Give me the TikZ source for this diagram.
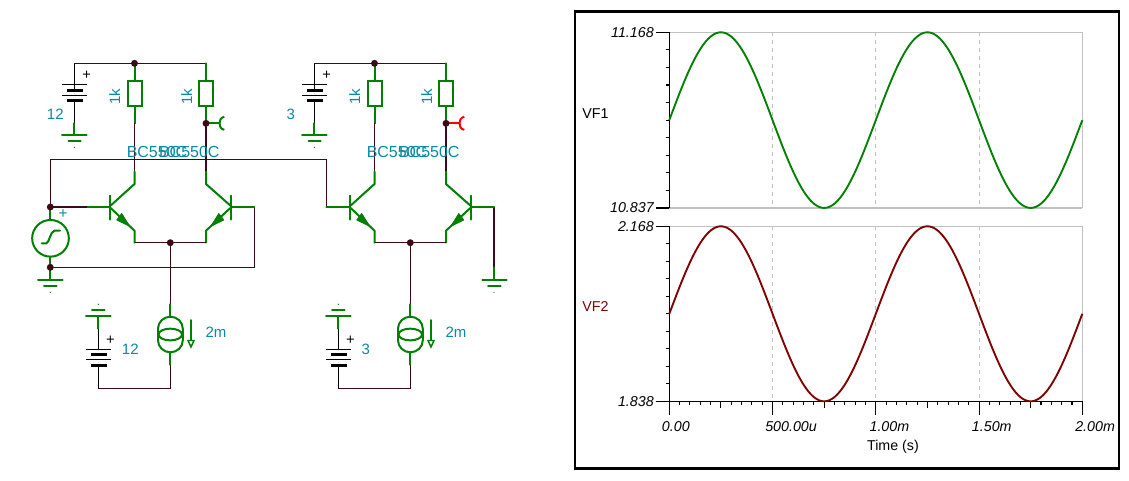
\documentclass[tikz,border=0pt]{standalone}
\usepackage{fontspec}
\setmainfont{Liberation Sans}
\definecolor{gr}{HTML}{008000}
\definecolor{wr}{HTML}{3C0A14}
\definecolor{tl}{HTML}{0A8AA0}
\definecolor{dr}{HTML}{800000}
\definecolor{gy}{HTML}{C0C0C0}
\tikzset{
 comp/.style={draw=gr,line width=1.5pt,line cap=round},
 wire/.style={draw=wr,line width=.8pt},
 blk/.style={draw=black,line width=.8pt},
 plate/.style={draw=black,line width=.8pt},
 thick plate/.style={draw=black,line width=2.6pt},
 dot/.style={fill=wr,circle,minimum size=5.2pt,inner sep=0pt},
 lab/.style={text=tl,font=\fontsize{11.25}{12}\selectfont,inner sep=0pt},
 tick lab/.style={font=\fontsize{10.7}{12}\selectfont\itshape,inner sep=0pt,text=black},
 axis lab/.style={font=\fontsize{10.7}{12}\selectfont,inner sep=0pt},
 ax/.style={draw=black,line width=.8pt},
 grid solid/.style={draw=gy,line width=.8pt},
 grid dash/.style={draw=gy,line width=.7pt,dash pattern=on 3pt off 3pt},
 arrow fill/.style={fill=gr,draw=gr,line width=.6pt,line join=round},
}
% one differential pair with its supply, load resistors, tail source and batteries
% #1 = probe colour
\newcommand{\diffpair}[1]{%
 % top supply
 \coordinate (bt) at (74.3,63.3);
 \coordinate (tl) at (134.5,63.3);
 \coordinate (tr) at (206,63.3);
 \draw[blk] (bt) -- (74.3,84.3);
 \draw[wire] (bt) -- (tl) -- (tr);
 \draw[plate] (62,84.3) -- (86.7,84.3) (62,95.3) -- (86.7,95.3);
 \draw[thick plate] (67,90.3) -- (83,90.3) (67,100.3) -- (83,100.3);
 \draw[plate] (74.3,84.3) -- (74.3,90) (74.3,100.3) -- (74.3,123.3);
 \node[font=\fontsize{11}{12}\selectfont,inner sep=0pt] (pl1) at (86.7,75.3) {+};
 % ground of the supply
 \draw[comp] (74.3,123.3) -- (74.3,135) (62,135) -- (86.7,135) (68.5,140.7) -- (80.7,140.7);
 \fill[gr] (74.3,147.3) circle[radius=.5pt];
 % resistors
 \foreach \x in {134.5,206}{
  \draw[comp] (\x,63.3) -- (\x,80.7) (\x,106) -- (\x,123.3);
  \draw[comp,line cap=butt] (\x-7,80.7) rectangle (\x+7,106);
 }
 \node[dot] (jt) at (tl) {};
 \node[lab,rotate=90] (ra) at (114.7,96.7) {1k};
 \node[lab,rotate=90] (rb) at (186.7,96.7) {1k};
 % collector wires
 \coordinate (ca) at (134.5,123.3);
 \coordinate (cb) at (206,123.3);
 \coordinate (cc) at (134.5,171.7);
 \coordinate (cd) at (206,171.7);
 \draw[wire] (ca) -- (cc) (cb) -- (cd);
 % probe
 \draw[draw=#1,line width=1.5pt] (cb) -- (219.5,123.3);
 \draw[draw=#1,line width=1.5pt] (224.3,116.8) .. controls (220.5,117.5) and (219.5,120.5) .. (219.5,123.3) .. controls (219.5,126.1) and (220.5,129.1) .. (224.3,129.8);
 \node[dot] (jc) at (cb) {};
 % transistors
 \draw[comp] (cc) -- (134.5,184) -- (110.7,205.5);
 \draw[comp] (110.7,208) -- (134.5,230.7) -- (134.5,242.7);
 \draw[comp] (110,195.5) -- (110,219.5);
 \draw[arrow fill] (129.8,226.3) -- (121.7,213.5) -- (116.7,220) -- cycle;
 \draw[comp] (cd) -- (206,184) -- (230.3,205.5);
 \draw[comp] (230.3,208) -- (206,230.7) -- (206,242.7);
 \draw[comp] (231,195.5) -- (231,219.5);
 \draw[arrow fill] (210.8,226.3) -- (218.8,213.5) -- (223.8,220) -- cycle;
 \node[lab,font=\fontsize{12}{12}\selectfont] (qa) at (157,152.3) {BC550C};
 \node[lab,font=\fontsize{12}{12}\selectfont] (qb) at (189.3,152.3) {BC550C};
 % emitter bus and tail
 \coordinate (ea) at (134.5,242.7);
 \coordinate (eb) at (206,242.7);
 \node[dot] (je) at (170.3,242.7) {};
 \coordinate (st) at (170.3,304.3);
 \coordinate (sb) at (170.3,364.7);
 \coordinate (bb) at (98.3,388.3);
 \coordinate (bc) at (170.3,388.3);
 \draw[wire] (ea) -- (eb) (je) -- (st) (sb) -- (bc) -- (bb);
 % current source
 \draw[comp] (st) -- (170.3,316.7) (170.3,352.3) -- (sb);
 \draw[comp] (158,328.7) arc[start angle=180,end angle=0,x radius=9.3pt,y radius=9pt] -- (182.8,340.3) arc[start angle=0,end angle=-180,x radius=9.3pt,y radius=9pt] -- cycle;
 \draw[comp] (170.3,334.5) circle[x radius=8.8pt,y radius=4.4pt];
 \draw[comp] (191,320) -- (191,340);
 \draw[comp,line cap=butt,line join=miter,line width=1.1pt] (188,340.5) -- (194,340.5) -- (191,347) -- cycle;
 \node[lab] (im) at (216,332.3) {2m};
 % lower battery
 \draw[comp] (86,316) -- (110.7,316) (92,310) -- (104.7,310) (98.3,316) -- (98.3,328.7);
 \fill[gr] (98.3,304.3) circle[radius=.5pt];
 \draw[blk] (98.3,328.7) -- (98.3,349.3) (98.3,365.3) -- (bb);
 \draw[plate] (86,349.3) -- (110.7,349.3) (86,359.3) -- (110.7,359.3);
 \draw[thick plate] (91,354.3) -- (107,354.3) (91,365.3) -- (107,365.3);
 \node[font=\fontsize{11}{12}\selectfont,inner sep=0pt] (pl2) at (110.5,340.3) {+};
}
\begin{document}
\begin{tikzpicture}[x=.75pt,y=-.75pt]
\useasboundingbox (0,0) rectangle (1129,480);
\fill[white] (0,0) rectangle (1129,480);

\begin{scope}[name prefix=l-]
 \diffpair{gr}
\end{scope}
\begin{scope}[shift={(240,0)},name prefix=r-]
 \diffpair{red}
\end{scope}
\node[lab] (v12a) at (55.3,114) {12};
\node[lab] (v12b) at (130.3,349) {12};
\node[lab] (v3a) at (290.7,114) {3};
\node[lab] (v3b) at (365.7,349) {3};

% input source
\coordinate (ja) at (50.3,207);
\coordinate (jb) at (50.3,267.3);
\coordinate (bl1) at (87.7,207);
\coordinate (wt) at (50.3,159.3);
\coordinate (wu) at (326.3,159.3);
\coordinate (wv) at (326.3,206.7);
\coordinate (bl2) at (350,206.7);
\coordinate (br1) at (254.3,206.7);
\coordinate (wb) at (254.3,267.3);
\coordinate (br3) at (494,206.7);
\coordinate (gd) at (494,267.3);
\coordinate (gnd) at (50.3,280);
\draw[wire] (ja) -- (wt) -- (wu) -- (wv);
\draw[wire] (ja) -- (bl1);
\draw[wire] (br1) -- (wb) -- (jb);
\draw[wire] (br3) -- (gd);
\draw[comp] (bl1) -- (110,207);
\draw[comp] (231,206.7) -- (br1);
\draw[comp] (wv) -- (bl2);
\draw[comp] (471,206.7) -- (br3);
\draw[comp] (ja) -- (50.3,220);
\draw[comp] (50.3,256.6) -- (gnd);
\node[dot] (jadot) at (ja) {};
\node[dot] (jbdot) at (jb) {};
\node[circle,draw=gr,line width=1.5pt,minimum size=27.5pt,inner sep=0pt] (src) at (50.5,238.3) {};
\draw[comp] (41.7,243.3) -- (46.5,243.3) .. controls (49,243) and (50.5,231) .. (54.5,230.7) -- (60,230.7);
\node[text=tl,font=\fontsize{11.5}{12}\selectfont,inner sep=0pt] (srcp) at (63,214.3) {+};
\draw[comp] (38,280) -- (62.7,280) (44,286) -- (56.7,286);
\fill[gr] (50.3,292.3) circle[radius=.5pt];
% right ground
\draw[comp] (494,267.3) -- (494,280) (482.3,280) -- (506.7,280) (488,286) -- (500.7,286);
\fill[gr] (494,292.3) circle[radius=.5pt];

% plot
\draw[draw=black,line width=1.9pt] (575,11.5) rectangle (1119,468.5);
\draw[grid solid] (669.3,32.3) -- (1082.3,32.3) (669.3,208) -- (1082.3,208) (669.3,226.3) -- (1082.3,226.3) (1082.3,32.3) -- (1082.3,208) (1082.3,226.3) -- (1082.3,401.3);
\foreach \x in {772.5,875.8,979}{
 \draw[grid dash] (\x,32.3) -- (\x,208) (\x,226.3) -- (\x,401.3);
}
\draw[ax] (669.3,32.3) -- (669.3,208) (669.3,226.3) -- (669.3,415);
\draw[ax] (669.3,401.3) -- (1082.3,401.3);
\draw[ax] (656,32.3) -- (669.3,32.3) (656,208) -- (669.3,208) (656,226.3) -- (669.3,226.3) (656,401.3) -- (669.3,401.3);
\foreach \i in {1,...,9}{
 \draw[ax] (665.8,32.3+17.57*\i) -- (669.3,32.3+17.57*\i);
 \draw[ax] (665.8,226.3+17.5*\i) -- (669.3,226.3+17.5*\i);
}
\foreach \i in {1,...,40}{
 \pgfmathsetmacro{\tx}{669.3+10.325*\i}
 \pgfmathsetmacro{\mj}{mod(\i,10)==0 ? 14 : (mod(\i,5)==0 ? 7 : 3.5)}
 \draw[ax] (\tx,401.3) -- (\tx,401.3+\mj);
}
\draw[gr,line width=1.4pt] plot[domain=669.3:1082.3,samples=240] (\x,{120.1-87.8*sin(1.74334*(\x-669.3))});
\draw[dr,line width=1.4pt] plot[domain=669.3:1082.3,samples=240] (\x,{313.8-87.5*sin(1.74334*(\x-669.3))});
\node[tick lab,anchor=east] (y1) at (654,32.3) {11.168};
\node[tick lab,anchor=east] (y2) at (654,208) {10.837};
\node[tick lab,anchor=east] (y3) at (654,226.3) {2.168};
\node[tick lab,anchor=east] (y4) at (654,401.3) {1.838};
\node[axis lab,anchor=west] (vf1) at (582,113.7) {VF1};
\node[axis lab,anchor=west,text=dr] (vf2) at (582,306.7) {VF2};
\node[tick lab,anchor=west] (x0) at (661.7,426.7) {0.00};
\node[tick lab,anchor=west] (x1) at (765,426.7) {500.00u};
\node[tick lab,anchor=west] (x2) at (869.3,426.7) {1.00m};
\node[tick lab,anchor=west] (x3) at (971.7,426.7) {1.50m};
\node[tick lab,anchor=west] (x4) at (1075,426.7) {2.00m};
\node[axis lab] (xl) at (893,446.7) {Time (s)};
\end{tikzpicture}
\end{document}
